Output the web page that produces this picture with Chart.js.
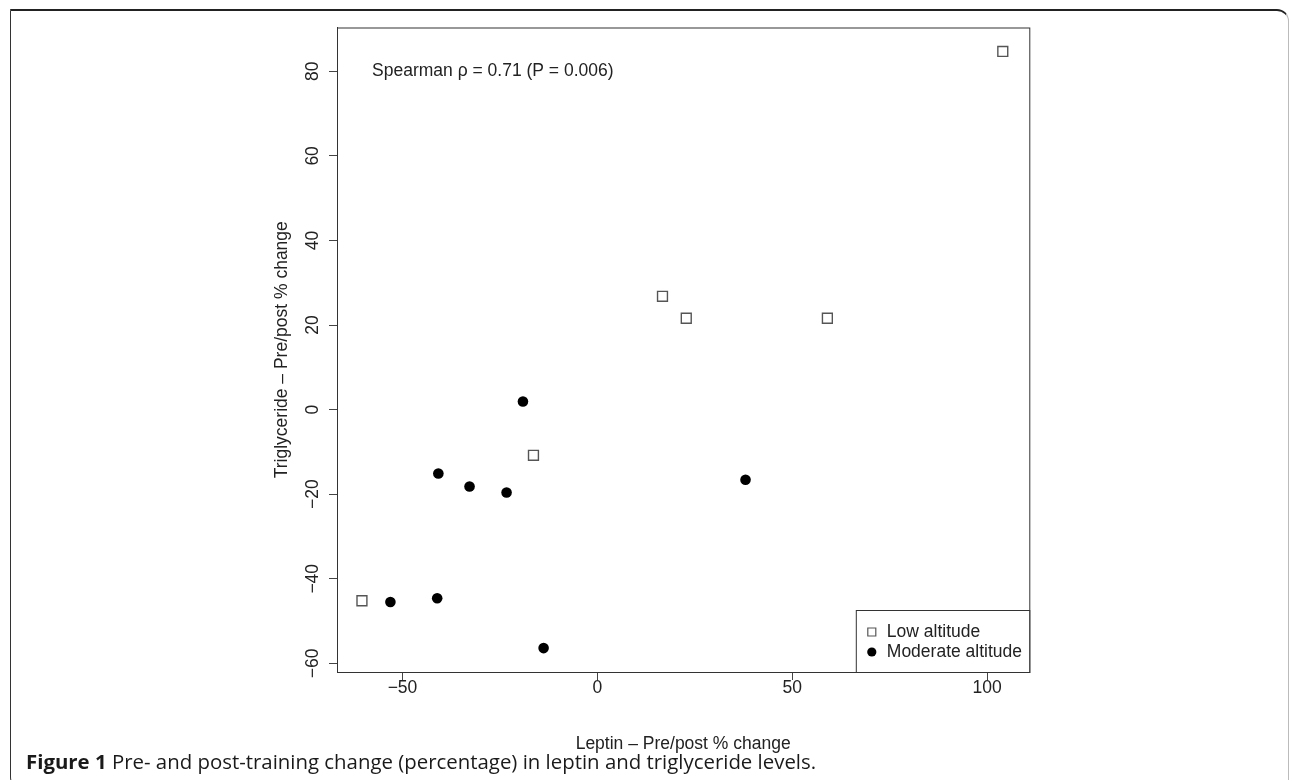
<!DOCTYPE html>
<html>
<head>
<meta charset="utf-8">
<script src="https://cdn.jsdelivr.net/npm/chart.js@4"></script>
<style>
  html, body { margin: 0; padding: 0; background: #fff; }
  #wrap { position: relative; width: 1293px; height: 780px; overflow: hidden; }
  #frame {
    position: absolute; left: 10px; top: 9px; width: 1279px; height: 780px;
    border-top: 2.5px solid #222; border-left: 1.2px solid #333; border-right: 1px solid #bbb;
    border-top-right-radius: 12px; border-bottom-left-radius: 12px;
    box-sizing: border-box;
  }
  #chart { position: absolute; left: 0; top: 0; }
  #caption {
    position: absolute; left: 26px; top: 747px; line-height: 28px;
    font-family: "Open Sans", sans-serif; font-size: 20.4px; color: #1a1a1a;
    white-space: nowrap;
  }
  #caption b { font-weight: 700; }
</style>
</head>
<body>
<div id="wrap">
  <div id="frame"></div>
  <canvas id="chart" width="1293" height="780"></canvas>
  <div id="caption"><b>Figure 1</b> Pre- and post-training change (percentage) in leptin and triglyceride levels.</div>
</div>
<script>
// values (percent change, pre vs post)
const lowX = [-60.4, -16.4, 16.7, 22.8, 59.0, 104.0];
const lowY = [-45.2, -10.8, 26.8, 21.6, 21.6, 84.7];
const modX = [-53.1, -41.1, -13.8, -40.8, -32.8, -23.3, -19.1, 38.0];
const modY = [-45.5, -44.6, -56.4, -15.1, -18.2, -19.6, 1.9, -16.6];

const xTicks = [-50, 0, 50, 100];
const yTicks = [-60, -40, -20, 0, 20, 40, 60, 80];

const seriesNames = ["Low altitude", "Moderate altitude"];
const statText = "Spearman \u03c1 = 0.71 (P = 0.006)";
const statPos = [-57.8, 80];

const FONT = "'Liberation Sans', Arial, Helvetica, sans-serif";
const FSIZE = 17.5;
const INK = "#222";

function toPoints(xs, ys) {
  return xs.map((x, i) => ({ x: x, y: ys[i] }));
}

function fmtTick(v) {
  return v < 0 ? "\u2212" + Math.abs(v) : String(v);
}

// box round the plot region, R style
const boxPlugin = {
  id: "plotBox",
  afterDatasetsDraw(chart) {
    const { ctx, chartArea: a } = chart;
    ctx.save();
    ctx.strokeStyle = "#333";
    ctx.lineWidth = 1;
    ctx.strokeRect(a.left + 0.5, a.top + 0.5, a.right - a.left, a.bottom - a.top);
    ctx.restore();
  }
};

// correlation note and legend drawn inside the plot area
const notesPlugin = {
  id: "notes",
  afterDraw(chart) {
    const { ctx, chartArea: a, scales } = chart;
    ctx.save();
    ctx.font = FSIZE + "px " + FONT;
    ctx.fillStyle = INK;
    ctx.textBaseline = "middle";
    ctx.textAlign = "left";
    ctx.fillText(statText, scales.x.getPixelForValue(statPos[0]), scales.y.getPixelForValue(statPos[1]));

    // legend, bottom right
    const w = 173.5, h = 62;
    const left = a.right - w, top = a.bottom - h;
    ctx.fillStyle = "#fff";
    ctx.fillRect(left, top, w, h);
    ctx.strokeStyle = "#333";
    ctx.lineWidth = 1;
    ctx.strokeRect(left + 0.5, top + 0.5, w, h);

    const ds = chart.data.datasets;
    ds.forEach((d, i) => {
      const cy = top + 22 + i * 20;
      const cx = left + 16;
      ctx.beginPath();
      if (d.pointStyle === "rect") {
        ctx.rect(cx - 4, cy - 4, 8, 8);
        ctx.fillStyle = "#fff";
        ctx.fill();
        ctx.strokeStyle = d.pointBorderColor;
        ctx.lineWidth = 1.2;
        ctx.stroke();
      } else {
        ctx.arc(cx, cy, 4.6, 0, Math.PI * 2);
        ctx.fillStyle = d.pointBackgroundColor;
        ctx.fill();
      }
      ctx.fillStyle = INK;
      ctx.fillText(d.label, left + 31, cy);
    });
    ctx.restore();
  }
};

new Chart(document.getElementById("chart"), {
  type: "scatter",
  data: {
    datasets: [
      {
        label: seriesNames[0],
        data: toPoints(lowX, lowY),
        pointStyle: "rect",
        pointRadius: 7,
        pointBackgroundColor: "#fff",
        pointBorderColor: "#555",
        pointBorderWidth: 1.4
      },
      {
        label: seriesNames[1],
        data: toPoints(modX, modY),
        pointStyle: "circle",
        pointRadius: 5.3,
        pointBackgroundColor: "#000",
        pointBorderColor: "#000",
        pointBorderWidth: 0
      }
    ]
  },
  options: {
    responsive: false,
    animation: false,
    events: [],
    layout: { padding: { left: 257, top: 27.5, right: 263.7, bottom: 13 } },
    plugins: {
      legend: { display: false },
      tooltip: { enabled: false }
    },
    scales: {
      x: {
        type: "linear",
        min: -66.8,
        max: 110.8,
        afterBuildTicks: (s) => { s.ticks = xTicks.map((v) => ({ value: v })); },
        afterFit: (s) => { s.height = 95; },
        ticks: {
          callback: fmtTick,
          color: INK,
          font: { family: FONT, size: FSIZE },
          padding: -2.5,
          maxRotation: 0
        },
        grid: {
          display: true,
          drawOnChartArea: false,
          drawTicks: true,
          tickLength: 8,
          color: "#444"
        },
        border: { display: true, color: "#333" },
        title: {
          display: true,
          text: "Leptin \u2013 Pre/post % change",
          color: INK,
          font: { family: FONT, size: FSIZE },
          padding: { top: 0, bottom: 12.5 }
        }
      },
      y: {
        type: "linear",
        min: -62.05,
        max: 90.36,
        afterBuildTicks: (s) => { s.ticks = yTicks.map((v) => ({ value: v })); },
        afterFit: (s) => { s.width = 80; },
        ticks: {
          callback: fmtTick,
          color: INK,
          font: { family: FONT, size: FSIZE },
          minRotation: 90,
          maxRotation: 90,
          crossAlign: "center",
          padding: 1.2
        },
        grid: {
          display: true,
          drawOnChartArea: false,
          drawTicks: true,
          tickLength: 8,
          color: "#444"
        },
        border: { display: true, color: "#333" },
        title: {
          display: true,
          text: "Triglyceride \u2013 Pre/post % change",
          color: INK,
          font: { family: FONT, size: FSIZE },
          padding: { top: 14.5, bottom: 0 }
        }
      }
    }
  },
  plugins: [boxPlugin, notesPlugin]
});
</script>
</body>
</html>
